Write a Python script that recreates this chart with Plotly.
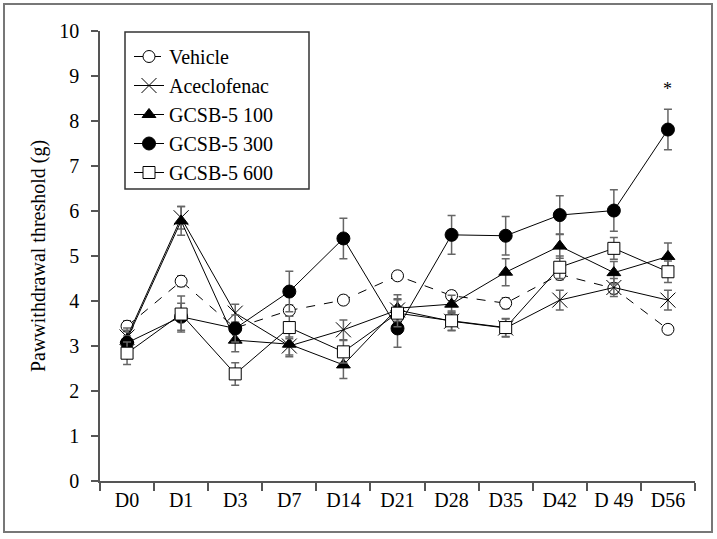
import plotly.graph_objects as go

days = ["D0", "D1", "D3", "D7", "D14", "D21", "D28", "D35", "D42", "D 49", "D56"]

vehicle = [3.44, 4.44, 3.40, 3.79, 4.02, 4.56, 4.12, 3.95, 4.59, 4.28, 3.37]
vehicle_err = [0.12, 0.12, 0.12, 0.12, 0.1, 0.1, 0.1, 0.12, 0.12, 0.12, 0.1]

aceclofenac = [3.20, 5.85, 3.73, 3.00, 3.36, 3.80, 3.55, 3.40, 4.02, 4.30, 4.02]
aceclofenac_err = [0.2, 0.25, 0.2, 0.2, 0.22, 0.25, 0.2, 0.2, 0.22, 0.2, 0.22]

gcsb100 = [3.15, 5.78, 3.13, 3.04, 2.58, 3.84, 3.93, 4.64, 5.22, 4.63, 4.99]
gcsb100_err = [0.2, 0.32, 0.26, 0.28, 0.3, 0.3, 0.2, 0.3, 0.27, 0.25, 0.3]

gcsb300 = [3.07, 3.65, 3.39, 4.21, 5.39, 3.39, 5.47, 5.45, 5.91, 6.01, 7.81]
gcsb300_err = [0.15, 0.3, 0.3, 0.45, 0.45, 0.42, 0.43, 0.43, 0.43, 0.46, 0.45]

gcsb600 = [2.84, 3.71, 2.38, 3.41, 2.87, 3.73, 3.56, 3.41, 4.75, 5.17, 4.65]
gcsb600_err = [0.25, 0.4, 0.25, 0.25, 0.25, 0.3, 0.22, 0.2, 0.25, 0.24, 0.24]

sig_day = "D56"
sig_y = 8.72

FONT = "Liberation Serif"
ERR_COLOR = "#666666"

series = [
    ("Vehicle", vehicle, vehicle_err, "circle", "white", "dash", 12),
    ("Aceclofenac", aceclofenac, aceclofenac_err, "x-thin-open", "black", "solid", 15),
    ("GCSB-5 100", gcsb100, gcsb100_err, "triangle-up", "black", "solid", 12),
    ("GCSB-5 300", gcsb300, gcsb300_err, "circle", "black", "solid", 13),
    ("GCSB-5 600", gcsb600, gcsb600_err, "square", "white", "solid", 12),
]

fig = go.Figure()
for name, vals, errs, sym, fill, dash, size in series:
    fig.add_trace(go.Scatter(
        x=days, y=vals, name=name, mode="lines+markers",
        line=dict(color="black", width=1, dash=dash),
        marker=dict(symbol=sym, size=size, color=fill,
                    line=dict(color="black", width=1)),
        error_y=dict(type="data", array=errs, visible=True,
                     color=ERR_COLOR, thickness=1.5, width=4),
    ))

fig.add_annotation(x=sig_day, y=sig_y, text="*", showarrow=False,
                   font=dict(family=FONT, size=18, color="black"))

L, R, T, B = 100, 695, 31, 481
W, H = R - L, B - T


def px(x):
    return (x - L) / W


def py(y):
    return (B - y) / H


# outer frame
fig.add_shape(type="rect", xref="paper", yref="paper",
              x0=px(4), x1=px(712), y0=py(532), y1=py(4),
              line=dict(color="#777777", width=2), fillcolor="rgba(0,0,0,0)",
              layer="below")
# legend box
fig.add_shape(type="rect", xref="paper", yref="paper",
              x0=px(125), x1=px(309), y0=py(189), y1=py(32),
              line=dict(color="#333333", width=1.5), fillcolor="white",
              layer="below")

fig.update_layout(
    width=717, height=539,
    margin=dict(l=L, r=717 - R, t=T, b=539 - B, autoexpand=False),
    paper_bgcolor="white", plot_bgcolor="rgba(0,0,0,0)",
    font=dict(family=FONT, size=20, color="black"),
    showlegend=True,
    legend=dict(x=px(129), y=py(37), xanchor="left", yanchor="top",
                borderwidth=0, bgcolor="rgba(0,0,0,0)",
                font=dict(family=FONT, size=20), tracegroupgap=0,
                itemwidth=30),
    xaxis=dict(type="category", range=[-0.5, 10.5], showgrid=False,
               showline=True, linecolor="#555555", linewidth=1.5,
               ticks="outside", tickson="boundaries", ticklen=8,
               tickcolor="#555555", tickwidth=1.5,
               tickfont=dict(family=FONT, size=20), zeroline=False),
    yaxis=dict(range=[0, 10], dtick=1, showgrid=False, showline=True,
               linecolor="#555555", linewidth=1.5, ticks="outside",
               ticklen=7, tickcolor="#555555", tickwidth=1.5,
               ticklabelstandoff=8,
               tickfont=dict(family=FONT, size=20), zeroline=False,
               title=dict(text="Pawwithdrawal threshold (g)", standoff=8,
                          font=dict(family=FONT, size=20))),
)

fig.write_html("out.html", config={"displayModeBar": False},
               post_script="document.body.style.margin='0';document.body.style.padding='0';")
